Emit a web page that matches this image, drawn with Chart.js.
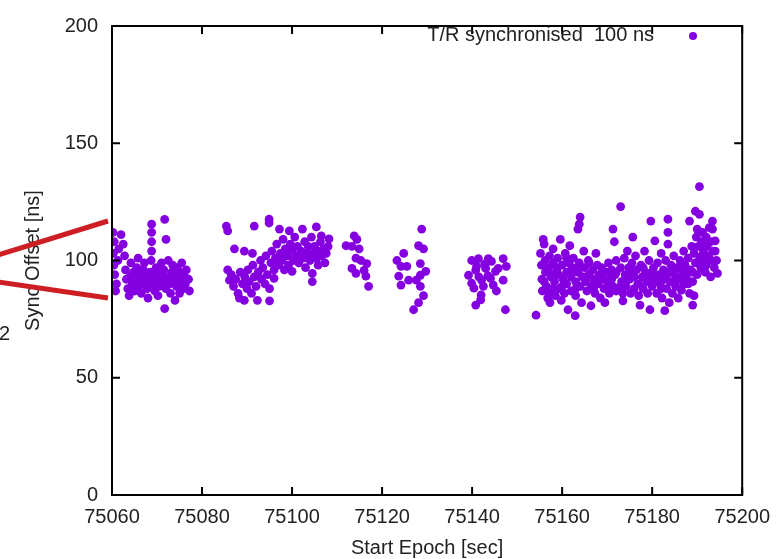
<!DOCTYPE html>
<html>
<head>
<meta charset="utf-8">
<script src="https://cdn.jsdelivr.net/npm/chart.js@4.4.1/dist/chart.umd.min.js"></script>
<style>
  html, body { margin: 0; padding: 0; background: #fff; }
  canvas { display: block; }
</style>
</head>
<body>
<canvas id="sync-chart" width="780" height="559"></canvas>
<script>
// Axis ticks
const xTicks = [75060, 75080, 75100, 75120, 75140, 75160, 75180, 75200];
const yTicks = [0, 50, 100, 150, 200];
const seriesLabel = 'T/R synchronised  100 ns';

// Points, [start epoch (s), sync offset (ns)], one list per burst
const clusterA = [
  [75060.2,112],[75060.5,108],[75060.3,103],[75060.4,98],[75060.6,94],[75060.8,87],[75061,90],[75061.3,100],
  [75061.5,105],[75062,111],[75062.5,107],[75062.8,102],[75063,96],[75063.2,92],[75063.5,88],[75063.8,85],
  [75064,93],[75064.2,99],[75064.5,90],[75064.8,95],[75065,87],[75065.2,92],[75065.5,97],[75065.8,101],
  [75066,89],[75066.2,94],[75066.5,86],[75066.8,91],[75067,96],[75067.2,99],[75067.5,93],[75067.8,88],
  [75068,84],[75068.2,91],[75068.5,95],[75068.7,100],[75068.8,104],[75068.8,108],[75068.8,112],[75068.8,115.5],
  [75069,90],[75069.2,93],[75069.5,87],[75069.8,97],[75070,92],[75070.2,85],[75070.5,89],[75070.8,94],
  [75071,99],[75071.2,91],[75071.5,96],[75071.7,117.5],[75071.7,79.5],[75072,109],[75072,88],[75072.2,93],
  [75072.5,100],[75072.8,90],[75073,86],[75073.3,95],[75073.5,98],[75073.8,92],[75074,83],[75074.3,89],
  [75074.5,97],[75074.8,93],[75075,86],[75075.3,91],[75075.5,99],[75075.8,88],[75076,94],[75076.3,90],
  [75076.5,96],[75077,92],[75077.2,87],[75066,96],[75067,90],[75070,96],[75073,91],[75075,95]
];
const clusterB = [
  [75085.4,114.7],[75085.7,112.6],[75091.6,114.7],[75094.9,117.6],[75094.9,116],[75087.2,105],[75089.4,104],
  [75091.2,103],[75085.7,96],[75086.1,91.6],[75086.5,94],[75087,89],[75087.5,92],[75088,86],[75088.3,84],
  [75088.5,95],[75089,90],[75089.4,83],[75089.5,93],[75090,88],[75090.2,96],[75090.5,91],[75091,86],
  [75091.3,98],[75091.6,93],[75092,89],[75092.3,83],[75092.5,95],[75093,100],[75093.2,92],[75093.5,97],
  [75094,90],[75094.2,102],[75094.5,94],[75095,82.8],[75095,88],[75095.3,99],[75095.5,104],[75096,92.4],
  [75096,96],[75096.3,101],[75096.6,107],[75097,98],[75097.2,113.4],[75097.4,103],[75097.8,100],[75098,109],
  [75098.3,96],[75098.5,105],[75099,102],[75099.2,98],[75099.4,112.6],[75099.6,107],[75100,95.4],[75100,104],
  [75100.3,100],[75100.6,110],[75101,102],[75101.2,106],[75101.5,99],[75102,104],[75102.3,113.4],[75102.5,101],
  [75102.8,108],[75103,97],[75103.3,103],[75103.6,106],[75104,100],[75104.3,110],[75104.5,94.5],[75104.5,91],
  [75104.8,103],[75105,106],[75105.4,114.3],[75105.5,101],[75105.8,98],[75106,104],[75106.3,108],[75106.6,102],
  [75107,105],[75107.3,99],[75107.6,103],[75108,106],[75108.2,109.2],[75106.5,110.5]
];
const clusterC = [
  [75112,106.3],[75113.8,110.5],[75114.4,109],[75113.3,106],[75114.9,105],[75114.2,101],[75115.3,100],
  [75116.6,98.7],[75113.3,96.6],[75114.2,94.5],[75116.4,93.3],[75116,95.8],[75117,89]
];
const clusterD = [
  [75124.8,103],[75123.3,100],[75124.2,97.5],[75125.5,97.5],[75123.7,93.3],[75125.9,91.6],[75124.2,89.5],
  [75128.8,113.4],[75128.1,106.3],[75129.2,105],[75128.5,98.7],[75129.7,95.4],[75128.5,93.7],[75127.6,91.6],
  [75128.5,89],[75129.2,85],[75128.1,82],[75127,79]
];
const clusterE = [
  [75139.9,100],[75141.4,100.8],[75143.6,100.8],[75144.3,99.6],[75146.9,100.8],[75147.6,97.5],[75139.2,93.7],
  [75140.8,95.8],[75143,96.6],[75145.2,95.4],[75145.8,96.6],[75139.9,90.3],[75142.1,91.6],[75144.1,92.4],
  [75146.9,91.6],[75140.4,88.2],[75142.5,89],[75144.7,89.5],[75142,85.3],[75145.4,87],[75141.9,83.2],
  [75140.8,81],[75147.4,79],[75141,97.5],[75142.8,98.5],[75143.5,93.5],[75141.5,93]
];
const loneOutliers = [[75154.2,76.7]];
const clusterF = [
  [75155.2,103],[75155.4,98],[75155.5,92],[75155.8,109],[75155.6,87],[75156,107],[75156.2,100],[75156.3,95],
  [75156.5,89],[75156.8,84],[75157,97],[75157.2,102],[75157.3,82],[75157.5,93],[75157.8,88],[75158,105],
  [75158,99],[75158.3,91],[75158.5,85],[75158.8,96],[75159,101],[75159.2,94],[75159.4,88],[75159.6,109],
  [75159.8,83],[75160,98],[75160.2,92],[75160.5,86],[75160.7,103],[75161,95],[75161,90],[75161.3,79],
  [75161.5,99],[75161.7,106.3],[75162,93],[75162,87],[75162.3,97],[75162.5,101],[75162.9,76.5],[75163,91],
  [75163,85],[75163.5,113.4],[75163.5,95],[75163.8,115.5],[75164,118.5],[75163.8,99],[75164,89],[75164.3,82],
  [75164.5,93],[75164.8,104],[75165,97],[75165.2,91],[75165.5,87],[75165.8,100],[75166,94],[75166.4,80.7],
  [75166.5,89],[75166.8,96],[75167,92],[75167.3,86],[75167.5,103],[75167.8,98],[75168,90],[75168.3,94],
  [75168.5,84],[75168.8,97],[75169,92],[75169.3,88],[75169.5,82],[75169.8,95],[75170,91],[75170.3,99],
  [75170.5,86],[75170.8,93],[75171,96],[75171.3,113.4],[75171.3,89],[75171.6,108],[75171.8,94],[75172,100],
  [75172,87],[75173,123],[75173,97],[75173.2,91],[75173.5,82.8],[75173.5,86],[75173.8,101],[75174,94],
  [75174.2,89],[75174.5,104],[75174.8,97],[75175,92],[75175.2,86],[75175.5,99],[75175.7,110],[75175.8,94],
  [75176,88],[75176.3,102],[75176.5,96],[75176.8,90],[75177,85],[75177.3,81],[75177.5,98],[75177.8,93],
  [75178,88],[75178.3,104],[75178.5,95],[75178.8,91],[75179,86],[75179.3,100],[75179.5,79],[75179.7,116.8],
  [75179.8,94],[75180,89],[75180.3,97],[75180.6,108.4],[75180.5,92],[75181,86],[75181.2,99],[75181.5,94],
  [75181.8,90],[75182,103],[75182.2,84],[75182.5,96],[75182.8,78.6],[75182.8,92],[75183,100],[75183.2,88],
  [75183.5,117.6],[75183.5,112],[75183.5,107],[75183.6,95],[75183.8,82],[75184,91],[75184.2,98],[75184.5,86],
  [75184.8,102],[75185,94],[75185.2,89],[75185.5,97],[75185.8,84],[75186,92],[75186.2,100],[75186.5,87.4],
  [75186.8,95],[75187,104],[75187,90],[75187.3,98],[75187.6,93],[75188,101],[75188.3,116.8],[75188.3,86],
  [75188.5,96],[75188.8,106],[75189,81],[75189,91],[75189.3,85],[75189.3,103],[75189.6,121],[75189.6,99],
  [75189.8,110],[75190,113.4],[75190,94],[75190.3,106],[75190.5,131.5],[75190.5,119.7],[75190.6,101],[75190.8,97],
  [75191,108],[75191.2,112],[75191.4,104],[75191.6,99],[75191.8,95],[75192,110],[75192.2,106],[75192.5,102],
  [75192.7,114],[75193,108],[75193.2,100],[75193.4,116.8],[75193.4,113.4],[75193.5,104],[75193.8,97],[75194,108.4],
  [75194,104],[75194.5,94.5],[75194.3,100],
  [75156,91],[75157,86],[75158,94],[75159,97],[75160,89],[75161,101],[75162,96],[75163,88],[75164,97],
  [75165,93],[75166,99],[75167,88],[75168,93],[75169,96],[75170,88],[75171,92],[75172,95],[75173,89],
  [75174,92],[75175,96],[75176,93],[75177,90],[75178,97],[75179,93],[75180,95],[75181,92],[75182,88],
  [75183,93],[75184,95],[75185,91],[75186,97],[75187,94],[75188,90],[75189,95],[75190,99],[75191,102],
  [75192,98],[75193,93]
];

const markerColor = 'rgb(132, 0, 224)';
const textColor = '#222';
const fontFamily = "'Liberation Sans', Arial, sans-serif";
const fontSize = 20;

const allPoints = [clusterA, clusterB, clusterC, clusterD, clusterE, loneOutliers, clusterF]
  .flat()
  .map(([x, y]) => ({ x, y }));

// gnuplot-like frame: border, inward mirror ticks, legend at top right, slide annotations
const framePlugin = {
  id: 'frame',
  afterDraw(chart) {
    const { ctx, chartArea: a, scales } = chart;
    ctx.save();
    ctx.strokeStyle = '#000';
    ctx.lineWidth = 2;
    ctx.strokeRect(a.left, a.top, a.right - a.left, a.bottom - a.top);

    const tick = 8;
    ctx.beginPath();
    xTicks.forEach(v => {
      const px = scales.x.getPixelForValue(v);
      ctx.moveTo(px, a.bottom); ctx.lineTo(px, a.bottom - tick);
      ctx.moveTo(px, a.top); ctx.lineTo(px, a.top + tick);
    });
    yTicks.forEach(v => {
      const py = scales.y.getPixelForValue(v);
      ctx.moveTo(a.left, py); ctx.lineTo(a.left + tick, py);
      ctx.moveTo(a.right, py); ctx.lineTo(a.right - tick, py);
    });
    ctx.stroke();

    // legend
    ctx.font = fontSize + 'px ' + fontFamily;
    ctx.fillStyle = textColor;
    ctx.textAlign = 'right';
    ctx.textBaseline = 'middle';
    ctx.fillText(seriesLabel, 654, 35);
    ctx.fillStyle = markerColor;
    ctx.beginPath();
    ctx.arc(693, 36, 4, 0, Math.PI * 2);
    ctx.fill();

    // red annotation lines from the slide
    ctx.strokeStyle = 'rgb(205, 30, 35)';
    ctx.lineWidth = 5;
    ctx.beginPath();
    ctx.moveTo(-2, 255); ctx.lineTo(108, 221);
    ctx.moveTo(-2, 282); ctx.lineTo(108, 298);
    ctx.stroke();

    ctx.fillStyle = textColor;
    ctx.textAlign = 'left';
    ctx.fillText('2', -1, 334);
    ctx.restore();
  }
};

new Chart(document.getElementById('sync-chart'), {
  type: 'scatter',
  data: {
    datasets: [{
      label: seriesLabel,
      data: allPoints,
      backgroundColor: markerColor,
      borderWidth: 0,
      pointRadius: 4.4,
      pointHoverRadius: 4.4
    }]
  },
  options: {
    responsive: false,
    animation: false,
    layout: { padding: { left: 0, right: 35, top: 20, bottom: 0 } },
    plugins: {
      legend: { display: false },
      tooltip: { enabled: false }
    },
    scales: {
      x: {
        type: 'linear',
        min: xTicks[0],
        max: xTicks[xTicks.length - 1],
        afterBuildTicks: s => { s.ticks = xTicks.map(v => ({ value: v })); },
        afterFit: s => { s.height = 64; },
        grid: { display: false, drawTicks: false },
        border: { display: false },
        ticks: {
          padding: 10,
          color: textColor,
          font: { family: fontFamily, size: fontSize },
          callback: v => String(v),
          maxRotation: 0
        },
        title: {
          display: true,
          text: 'Start Epoch [sec]',
          color: textColor,
          font: { family: fontFamily, size: fontSize, lineHeight: 1 },
          padding: { top: 0, bottom: 1 }
        }
      },
      y: {
        min: yTicks[0],
        max: yTicks[yTicks.length - 1],
        afterBuildTicks: s => { s.ticks = yTicks.map(v => ({ value: v })); },
        afterFit: s => { s.width = 112; },
        grid: { display: false, drawTicks: false },
        border: { display: false },
        ticks: {
          padding: 14,
          color: textColor,
          font: { family: fontFamily, size: fontSize },
          callback: v => String(v)
        },
        title: {
          display: true,
          text: 'Sync Offset [ns]',
          color: textColor,
          font: { family: fontFamily, size: fontSize, lineHeight: 1 },
          padding: { top: 23, bottom: 0 }
        }
      }
    }
  },
  plugins: [framePlugin]
});
</script>
</body>
</html>
